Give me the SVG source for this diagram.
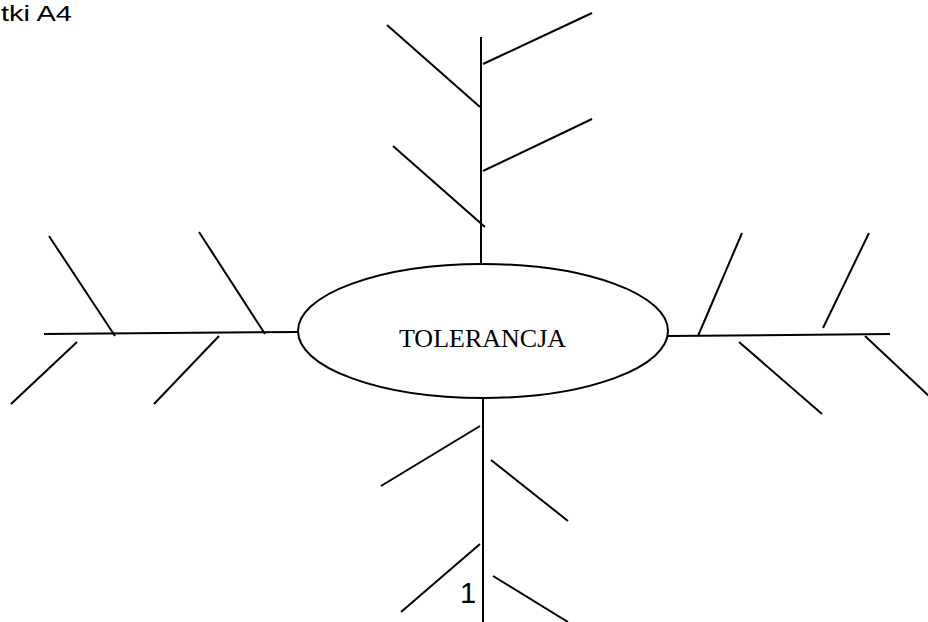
<svg xmlns="http://www.w3.org/2000/svg" width="928" height="622" viewBox="0 0 928 622">
<style>
.ln{stroke:#000;stroke-width:2;fill:none;stroke-linecap:butt}
.el{stroke:#000;stroke-width:2;fill:#fff}
.lbl{font-family:"Liberation Serif","Times New Roman",serif;font-size:26px;fill:#000}
.hdr{font-family:"Liberation Sans",Arial,sans-serif;font-size:22px;fill:#000}
.num{font-family:"Liberation Sans",Arial,sans-serif;font-size:29px;fill:#000}
</style>
<rect width="928" height="622" fill="#fff"/>
<text class="hdr" x="1" y="21" textLength="71" lengthAdjust="spacingAndGlyphs">tki A4</text>
<g id="connectors">
  <line class="ln" x1="481" y1="37" x2="481" y2="266"/>
  <line class="ln" x1="387" y1="25" x2="480" y2="107"/>
  <line class="ln" x1="483" y1="64" x2="592" y2="13"/>
  <line class="ln" x1="393" y1="146" x2="485" y2="227"/>
  <line class="ln" x1="483" y1="171" x2="592" y2="119"/>
  <line class="ln" x1="483" y1="397" x2="483" y2="622"/>
  <line class="ln" x1="480" y1="426" x2="381" y2="486"/>
  <line class="ln" x1="491" y1="460" x2="568" y2="521"/>
  <line class="ln" x1="480" y1="544" x2="401" y2="612"/>
  <line class="ln" x1="493" y1="576" x2="568" y2="622"/>
  <line class="ln" x1="44" y1="334" x2="298" y2="332"/>
  <line class="ln" x1="49" y1="236" x2="115" y2="336"/>
  <line class="ln" x1="77" y1="342" x2="11" y2="404"/>
  <line class="ln" x1="199" y1="232" x2="265" y2="334"/>
  <line class="ln" x1="219" y1="336" x2="154" y2="404"/>
  <line class="ln" x1="668" y1="336" x2="890" y2="334"/>
  <line class="ln" x1="698" y1="336" x2="742" y2="233"/>
  <line class="ln" x1="823" y1="328" x2="869" y2="233"/>
  <line class="ln" x1="739" y1="342" x2="822" y2="414"/>
  <line class="ln" x1="865" y1="336" x2="929" y2="396"/>
</g>
<g id="node-tolerancja">
  <ellipse class="el" cx="483" cy="331" rx="185" ry="67"/>
  <text class="lbl" x="482.5" y="347" text-anchor="middle">TOLERANCJA</text>
</g>
<text class="num" x="460" y="603">1</text>
</svg>
